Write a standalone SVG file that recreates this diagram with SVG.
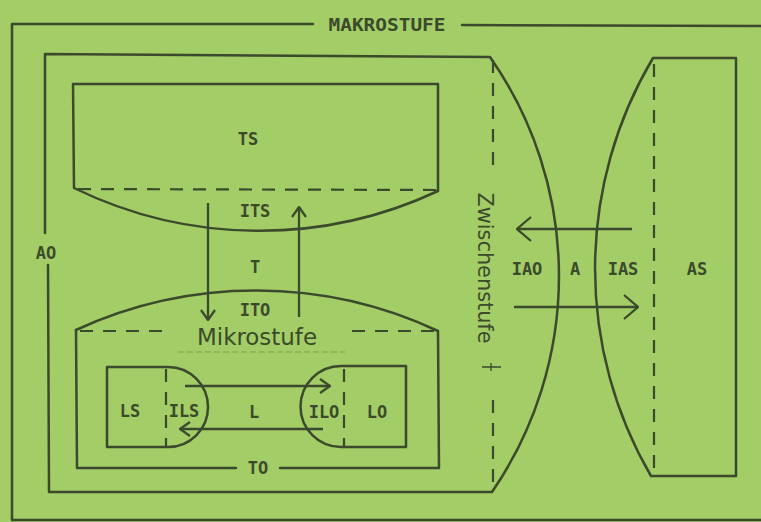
<svg xmlns="http://www.w3.org/2000/svg" width="761" height="522" viewBox="0 0 761 522">
<defs>
<style>
.ln{fill:none;stroke:#3b4a2c;stroke-width:2.5;stroke-linecap:round;stroke-linejoin:round}
.ds{fill:none;stroke:#3b4a2c;stroke-width:2.2;stroke-dasharray:13 10}
.lb{font-family:"DejaVu Sans Mono","Liberation Mono",monospace;font-size:17px;font-weight:bold;fill:#3b4a2c;text-anchor:middle}
.sf{font-family:"DejaVu Sans","Liberation Sans",sans-serif;fill:#3b4a2c;text-anchor:middle}
.ar{fill:none;stroke:#3b4a2c;stroke-width:2.3}
</style>
<marker id="hs" viewBox="0 0 12 16" refX="11" refY="8" markerWidth="12" markerHeight="16" markerUnits="userSpaceOnUse" orient="auto"><path d="M1,1 L11,8 L1,15" fill="none" stroke="#3b4a2c" stroke-width="2.3"/></marker>
<marker id="hb" viewBox="0 0 16 26" refX="15" refY="13" markerWidth="16" markerHeight="26" markerUnits="userSpaceOnUse" orient="auto"><path d="M1,1 L15,13 L1,25" fill="none" stroke="#3b4a2c" stroke-width="2.3"/></marker>
</defs>
<rect width="761" height="522" fill="#a3cd66"/>

<g id="makrostufe">
<path class="ln" d="M313,24 L12,24 L12,520 L761,520"/>
<path class="ln" d="M462,25 L761,26"/>
<text class="lb" x="387" y="31" font-size="18" textLength="117" lengthAdjust="spacingAndGlyphs">MAKROSTUFE</text>
</g>

<g id="AO">
<path class="ln" d="M45,233 L45,54 L490,57 A382,382 0 0 1 492,492 L49,492 L48,265"/>
<text class="lb" x="46" y="259">AO</text>
</g>

<g id="zwischenstufe">
<path class="ds" d="M493,60 L493,170"/>
<path class="ds" d="M493,400 L493,490"/>
<path d="M482,367 L501,367 M491,363 L491,371" fill="none" stroke="#3b4a2c" stroke-width="1.3"/>
<text class="sf" font-size="20.5" transform="translate(478,268) rotate(90)" textLength="151" lengthAdjust="spacingAndGlyphs">Zwischenstufe</text>
<text class="lb" x="527" y="275">IAO</text>
<text class="lb" x="575" y="275">A</text>
</g>

<g id="AS">
<path class="ln" d="M653,58 L736,58 L736,476 L651,476 A412,412 0 0 1 653,58 Z"/>
<path class="ds" d="M654,64 L654,476"/>
<text class="lb" x="623" y="275">IAS</text>
<text class="lb" x="697" y="275">AS</text>
</g>

<g id="TS">
<path class="ln" d="M74,188 L73,84 L438,84 L438,191 A422,422 0 0 1 74,188 Z"/>
<path class="ds" d="M78,189 L436,190"/>
<text class="lb" x="248" y="145">TS</text>
<text class="lb" x="255" y="217">ITS</text>
</g>

<g id="T">
<text class="lb" x="255" y="273">T</text>
</g>

<g id="TO">
<path class="ln" d="M76,330 A430,430 0 0 1 438,331 L439,468 L280,468"/>
<path class="ln" d="M236,468 L77,468 L76,330"/>
<path class="ds" d="M80,331 L167,331"/>
<path class="ds" d="M352,331 L436,331"/>
<text class="lb" x="255" y="316">ITO</text>
<text class="sf" x="257" y="345" font-size="23" textLength="120" lengthAdjust="spacingAndGlyphs">Mikrostufe</text>
<path d="M178,352 L345,352" stroke="#3b4a2c" stroke-width="1" stroke-dasharray="6 3" opacity="0.35"/>
<text class="lb" x="258" y="474">TO</text>
</g>

<g id="LS">
<path class="ln" d="M168,367 L107,367 L107,447 L168,447 A40,40 0 0 0 168,367 Z"/>
<path class="ds" d="M166,369 L166,446" stroke-dasharray="10 7"/>
<text class="lb" x="130" y="417">LS</text>
<text class="lb" x="184" y="417">ILS</text>
</g>

<g id="L">
<text class="lb" x="254" y="418">L</text>
</g>

<g id="LO">
<path class="ln" d="M341,366 L406,366 L406,447 L341,447 A40.5,40.5 0 0 1 341,366 Z"/>
<path class="ds" d="M344,369 L344,446" stroke-dasharray="10 7"/>
<text class="lb" x="324" y="418">ILO</text>
<text class="lb" x="377" y="418">LO</text>
</g>

<g id="connectors">
<path class="ar" d="M208,203 L208,320" marker-end="url(#hs)"/>
<path class="ar" d="M299,317 L299,207" marker-end="url(#hs)"/>
<path class="ar" d="M185,386 L330,386" marker-end="url(#hs)"/>
<path class="ar" d="M323,429 L180,429" marker-end="url(#hs)"/>
<path class="ar" d="M632,229 L517,229" marker-end="url(#hb)"/>
<path class="ar" d="M514,307 L638,307" marker-end="url(#hb)"/>
</g>
</svg>
